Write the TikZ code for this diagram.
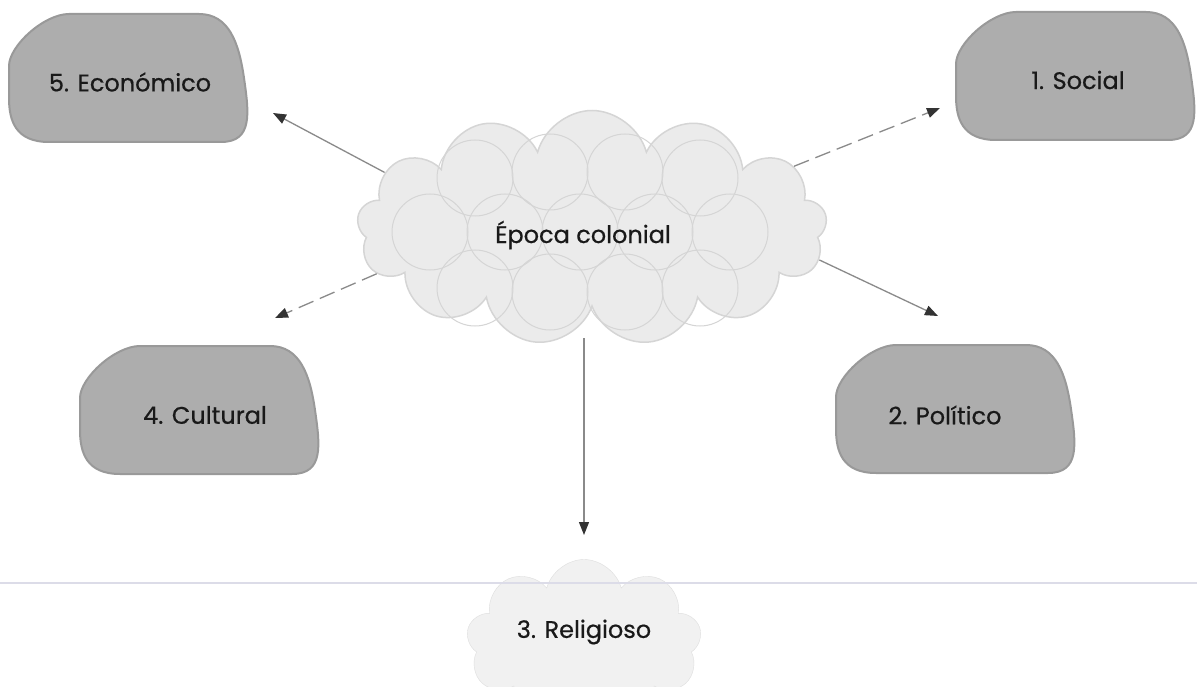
\documentclass[tikz,border=0pt]{standalone}
\usepackage{fontspec}
\setmainfont{Poppins}
\newfontfamily\tagfont{Poppins}[FakeBold=0.6]
\usetikzlibrary{arrows.meta,shapes.symbols}
\definecolor{blobfill}{HTML}{ADADAD}
\definecolor{blobedge}{HTML}{999999}
\definecolor{cloudfill}{HTML}{EBEBEB}
\definecolor{cloudedge}{HTML}{D5D5D5}
\definecolor{religfill}{HTML}{F1F1F1}
\definecolor{linkline}{HTML}{8A8A8A}
\definecolor{linktip}{HTML}{333333}
\definecolor{scanline}{HTML}{DCDCE8}
\tikzset{
  blob/.style={fill=blobfill,draw=blobedge,line width=2pt},
  stone/.pic={
    \draw[blob] (-60,-64) -- (70,-64) .. controls (100,-64) and (110,-35) .. (115,0)
      .. controls (120,35) and (124,64) .. (92,64) -- (-80,64)
      .. controls (-114,64) and (-120,42) .. (-120,20) -- (-120,-12)
      .. controls (-120,-32) and (-85,-64) .. (-60,-64) -- cycle;
  },
  tagtext/.style={font=\tagfont\fontsize{24}{28}\selectfont,text=black!90},
  linkarrow/.style={linkline,line width=1.3pt,-{Triangle[length=13pt,width=10pt,color=linktip]}},
  dashlink/.style={linkarrow,dash pattern=on 16pt off 7pt},
}

\begin{document}
\begin{tikzpicture}[x=1pt,y=-1pt]
  \fill[white] (0,0) rectangle (1197,687);
  \useasboundingbox (0,0) rectangle (1197,687);

  % Grey blobs
  \pic at (129,78) {stone};
  \pic at (1076,76) {stone};
  \pic at (200,410) {stone};
  \pic at (956,409) {stone};

  \node[tagtext] (econ) at (130,82) {5. Económico};
  \node[tagtext] (social) at (1078,80) {1. Social};
  \node[tagtext] (cultural) at (205,415) {4. Cultural};
  \node[tagtext] (politico) at (945,415) {2. Político};

  % Religioso (cut by the page edge)
  \node[cloud,cloud puffs=9,cloud ignores aspect,minimum width=235pt,minimum height=165pt,
        fill=religfill,draw=religfill!92!black] (religblob) at (584,642) {};
  \draw[scanline,line width=2pt] (0,583) -- (1197,583);
  \node[tagtext] (relig) at (584,632) {3. Religioso};

  % Centre cloud
  \node[cloud,cloud puffs=13,cloud ignores aspect,minimum width=470pt,minimum height=235pt,
        fill=cloudfill,draw=cloudedge,line width=1.5pt] (cloud) at (592,228) {};
  \foreach \cx/\cy in {475/178,550/172,625/172,700/178,
                       430/232,505/232,580/232,655/232,730/232,
                       475/288,550/292,625/292,700/288}
    \draw[cloudedge,line width=1pt] (\cx,\cy) circle (38);
  \node[tagtext] (epoca) at (583,235) {Época colonial};

  % Links
  \coordinate (econtip) at (273,113);
  \coordinate (socialtip) at (940,108);
  \coordinate (culturaltip) at (275,318);
  \coordinate (politicotip) at (938,316);
  \coordinate (religtip) at (584,535);
  \draw[linkarrow] (cloud.165) -- (econtip);
  \draw[dashlink] (cloud.17) -- (socialtip);
  \draw[dashlink] (cloud.192) -- (culturaltip);
  \draw[linkarrow] (cloud.-8) -- (politicotip);
  \draw[linkarrow] ([yshift=-30pt]cloud.south -| relig.north) -- (religtip);
\end{tikzpicture}
\end{document}
